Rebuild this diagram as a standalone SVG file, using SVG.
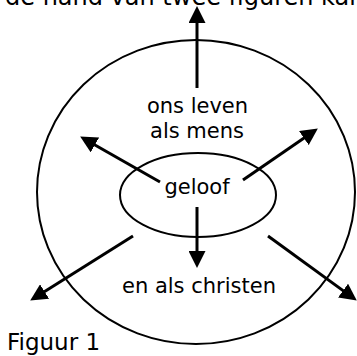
<svg xmlns="http://www.w3.org/2000/svg" width="357" height="356" viewBox="0 0 357 356">
  <style>
    .t { font-family: "DejaVu Sans", Verdana, sans-serif; fill: #000; }
    .lbl { font-size: 21px; text-anchor: middle; }
    .shape { fill: none; stroke: #000; stroke-width: 2; }
    .arrow { stroke: #000; stroke-width: 3; fill: none; marker-end: url(#ah); }
  </style>
  <defs>
    <marker id="ah" markerUnits="userSpaceOnUse" markerWidth="17" markerHeight="17" refX="6" refY="8.5" orient="auto" viewBox="0 0 17 17">
      <path d="M0,0 L17,8.5 L0,17 z" fill="#000"/>
    </marker>
  </defs>
  <rect width="357" height="356" fill="#fff"/>
  <text class="t" x="5" y="5" font-size="24">de hand van twee figuren kan</text>
  <g id="outer">
    <ellipse class="shape" cx="196" cy="192" rx="159" ry="152"/>
    <text class="t lbl" x="197.5" y="113">ons leven</text>
    <text class="t lbl" x="197" y="138">als mens</text>
    <text class="t lbl" x="199" y="293">en als christen</text>
  </g>
  <g id="geloof">
    <ellipse class="shape" cx="198" cy="195" rx="78" ry="42"/>
    <text class="t lbl" x="197" y="194">geloof</text>
  </g>
  <g id="connectors">
    <line class="arrow" x1="197" y1="88" x2="197" y2="17"/>
    <line class="arrow" x1="160" y1="182" x2="89.7" y2="142"/>
    <line class="arrow" x1="243" y1="180" x2="308.8" y2="134.7"/>
    <line class="arrow" x1="197" y1="207" x2="197" y2="257"/>
    <line class="arrow" x1="133" y1="236" x2="39.5" y2="294.7"/>
    <line class="arrow" x1="268" y1="236" x2="347.9" y2="294.1"/>
  </g>
  <text class="t" x="7" y="350" font-size="23">Figuur 1</text>
</svg>
